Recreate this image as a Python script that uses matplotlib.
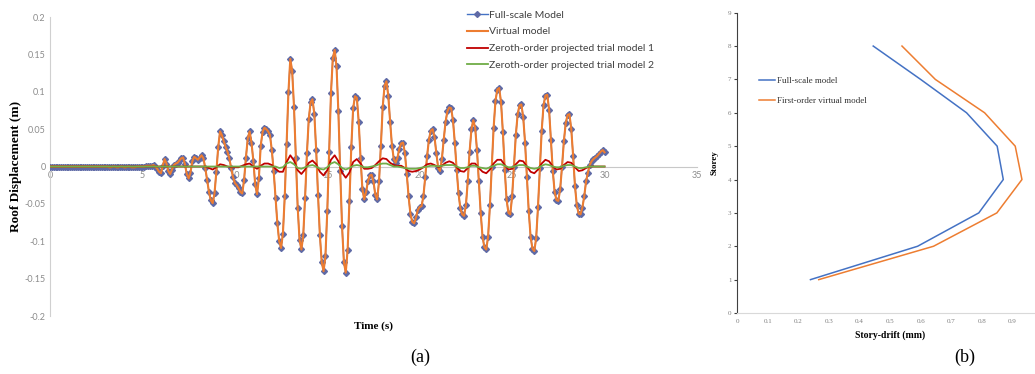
import matplotlib.pyplot as plt
import numpy as np

DT_FULL = 0.1
full_scale = [
    0.000, 0.000, 0.000, 0.000, 0.000, 0.000, 0.000, 0.000, 0.000, 0.000,
    0.000, 0.000, 0.000, 0.000, 0.000, 0.000, 0.000, 0.000, 0.000, 0.000,
    0.000, 0.000, 0.000, 0.000, 0.000, 0.000, 0.000, 0.000, 0.000, 0.000,
    0.000, 0.000, -0.001, -0.001, 0.000, 0.000, -0.001, -0.001, 0.000, 0.000,
    -0.001, -0.001, 0.000, 0.000, -0.001, -0.001, -0.001, 0.000, 0.000, 0.000,
    0.000, 0.000, 0.001, 0.001, 0.001, 0.001, 0.002, 0.000, -0.003, -0.007,
    -0.009, 0.001, 0.010, 0.004, -0.006, -0.010, -0.004, 0.002, 0.004, 0.005,
    0.008, 0.011, 0.012, 0.003, -0.010, -0.016, -0.008, 0.007, 0.013, 0.011,
    0.009, 0.012, 0.015, 0.011, -0.002, -0.018, -0.034, -0.045, -0.049, -0.036,
    -0.007, 0.026, 0.047, 0.042, 0.034, 0.026, 0.020, 0.011, -0.002, -0.014,
    -0.022, -0.025, -0.029, -0.034, -0.036, -0.018, 0.012, 0.038, 0.047, 0.032,
    0.008, -0.024, -0.037, -0.016, 0.028, 0.046, 0.052, 0.050, 0.047, 0.042,
    0.022, -0.006, -0.042, -0.076, -0.100, -0.109, -0.090, -0.040, 0.030, 0.100,
    0.144, 0.128, 0.080, 0.012, -0.055, -0.098, -0.111, -0.092, -0.042, 0.018,
    0.064, 0.086, 0.090, 0.070, 0.022, -0.038, -0.092, -0.128, -0.140, -0.120,
    -0.060, 0.020, 0.098, 0.145, 0.156, 0.134, 0.074, -0.006, -0.080, -0.128,
    -0.142, -0.112, -0.046, 0.026, 0.078, 0.094, 0.092, 0.060, 0.012, -0.030,
    -0.044, -0.034, -0.020, -0.012, -0.011, -0.020, -0.038, -0.044, -0.020, 0.028,
    0.080, 0.108, 0.114, 0.095, 0.060, 0.028, 0.010, 0.005, 0.012, 0.024,
    0.031, 0.032, 0.018, -0.010, -0.040, -0.064, -0.074, -0.076, -0.068, -0.058,
    -0.054, -0.053, -0.040, -0.014, 0.014, 0.036, 0.048, 0.050, 0.040, 0.018,
    -0.002, -0.006, 0.010, 0.036, 0.060, 0.074, 0.079, 0.078, 0.062, 0.032,
    -0.004, -0.036, -0.056, -0.064, -0.066, -0.052, -0.020, 0.020, 0.050, 0.062,
    0.052, 0.022, -0.020, -0.062, -0.094, -0.108, -0.111, -0.094, -0.052, 0.000,
    0.052, 0.088, 0.103, 0.105, 0.086, 0.046, -0.004, -0.044, -0.062, -0.064,
    -0.040, 0.000, 0.042, 0.070, 0.082, 0.083, 0.066, 0.032, -0.014, -0.060,
    -0.094, -0.110, -0.113, -0.096, -0.054, -0.002, 0.048, 0.082, 0.095, 0.096,
    0.076, 0.036, -0.006, -0.034, -0.045, -0.046, -0.030, 0.000, 0.034, 0.058,
    0.069, 0.070, 0.050, 0.014, -0.026, -0.052, -0.063, -0.064, -0.055, -0.040,
    -0.020, -0.008, 0.002, 0.007, 0.010, 0.012, 0.014, 0.017, 0.020, 0.022,
    0.019,
]
# the virtual model sits exactly on top of the full-scale curve
virtual_model = list(full_scale)

# trial models, sampled every 0.2 s
DT_TRIAL = 0.2
trial_1 = [
    0.000, 0.000, 0.000, 0.000, 0.000, 0.000, 0.000, 0.000, 0.000, 0.000,
    0.000, 0.000, 0.000, 0.000, 0.000, 0.000, 0.000, 0.000, 0.000, 0.000,
    0.000, 0.000, 0.000, 0.000, 0.000, 0.000, 0.000, 0.000, 0.000, 0.000,
    0.000, 0.000, 0.000, 0.000, 0.000, 0.000, 0.000, 0.000, 0.000, 0.000,
    0.000, 0.000,
    0.000, -0.002, -0.004, -0.001, 0.003, 0.002, 0.000, -0.001, -0.001, -0.001,
    0.001, 0.003, 0.004, 0.000, -0.003, 0.001, 0.004, 0.004, 0.002, -0.003,
    -0.007, -0.007, 0.006, 0.015, 0.008, -0.005, -0.010, -0.004, 0.005, 0.008,
    0.003, -0.007, -0.012, -0.005, 0.009, 0.015, 0.007, -0.008, -0.015, -0.008,
    0.006, 0.010, 0.004, -0.003, -0.003, -0.002, 0.002, 0.007, 0.011, 0.010,
    0.005, 0.002, 0.001, 0.001, -0.002, -0.006, -0.007, -0.006, -0.004, -0.001,
    0.003, 0.004, 0.002, -0.001, 0.001, 0.005, 0.007, 0.005, -0.001, -0.006,
    -0.007, -0.002, 0.004, 0.004, -0.002, -0.007, -0.009, -0.004, 0.004, 0.009,
    0.009, 0.002, -0.004, -0.003, 0.003, 0.008, 0.007, 0.000, -0.007, -0.009,
    -0.004, 0.004, 0.009, 0.007, 0.000, -0.004, -0.003, 0.002, 0.006, 0.005,
    -0.001, -0.006, -0.005, -0.002, 0.000, 0.000, 0.000, 0.000, 0.000,
]
trial_2 = [
    0.000, 0.000, 0.000, 0.000, 0.000, 0.000, 0.000, 0.000, 0.000, 0.000,
    0.000, 0.000, 0.000, 0.000, 0.000, 0.000, 0.000, 0.000, 0.000, 0.000,
    0.000, 0.000, 0.000, 0.000, 0.000, 0.000, 0.000, 0.000, 0.000, 0.000,
    0.000, 0.000, 0.000, 0.000, 0.000, 0.000, 0.000, 0.000, 0.000, 0.000,
    0.000, 0.000, 0.000, 0.000, 0.000, 0.000, 0.000, 0.000, 0.000, 0.000,
    0.000, 0.000, 0.000, 0.000, 0.000, 0.000, 0.000, 0.000, 0.000, 0.000,
    0.000,
    0.000, -0.002, -0.001, 0.004, 0.006, 0.003, -0.002, -0.003, -0.001, 0.001,
    0.002, 0.000, -0.003, -0.004, -0.001, 0.004, 0.006, 0.003, -0.002, -0.004,
    -0.002, 0.001, 0.002, 0.001, -0.001, -0.001, 0.000, 0.001, 0.003, 0.004,
    0.004, 0.002, 0.000, 0.000, -0.001, -0.002, -0.003, -0.003, -0.003, -0.002,
    -0.001, 0.000, 0.001, 0.001, 0.000, 0.001, 0.002, 0.002, 0.002, 0.000,
    -0.002, -0.002, -0.001, 0.001, 0.001, -0.001, -0.002, -0.003, -0.001, 0.001,
    0.003, 0.003, 0.001, -0.001, -0.001, 0.001, 0.002, 0.002, 0.000, -0.002,
    -0.003, -0.002, 0.001, 0.003, 0.002, 0.000, -0.001, -0.001, 0.001, 0.002,
    0.002, 0.000, -0.002, -0.002, -0.001, 0.000, 0.000, 0.000, 0.000, 0.000,
]

LEGEND_A = [
    "Full-scale Model",
    "Virtual model",
    "Zeroth-order projected trial model 1",
    "Zeroth-order projected trial model 2",
]
Y_TICKS_A = [-0.2, -0.15, -0.1, -0.05, 0, 0.05, 0.1, 0.15, 0.2]
X_TICKS_A = [0, 5, 10, 15, 20, 25, 30, 35]

# ---- (b) story drift profile
storey = [1, 2, 3, 4, 5, 6, 7, 8]
drift_full = [0.24, 0.59, 0.79, 0.87, 0.85, 0.75, 0.60, 0.445]
drift_virtual = [0.267, 0.642, 0.849, 0.931, 0.909, 0.809, 0.648, 0.539]
LEGEND_B = ["Full-scale model", "First-order virtual model"]
X_TICKS_B = [0, 0.1, 0.2, 0.3, 0.4, 0.5, 0.6, 0.7, 0.8, 0.9]

BLUE = "#4472C4"
ORANGE = "#ED7D31"
RED = "#C00000"
GREEN = "#70AD47"
SANS = ["Lato", "DejaVu Sans"]
SERIF = ["Liberation Serif", "DejaVu Serif"]


def main():
    fig = plt.figure(figsize=(10.35, 3.74), dpi=100)

    # ---------------- panel (a)
    ax = fig.add_axes([0.0483, 0.155, 0.6251, 0.7995])
    t_full = np.arange(len(full_scale)) * DT_FULL
    t_trial = np.arange(len(trial_1)) * DT_TRIAL

    ax.plot(t_full, full_scale, color=BLUE, lw=1.0, marker="D", ms=3.0,
            mfc="#5f6aa6", mec="#5f6aa6", label=LEGEND_A[0], zorder=3)
    ax.plot(t_full, virtual_model, color=ORANGE, lw=1.5, label=LEGEND_A[1], zorder=4)
    ax.plot(t_trial, trial_1, color=RED, lw=1.3, label=LEGEND_A[2], zorder=5)
    ax.plot(t_trial, trial_2, color=GREEN, lw=1.3, label=LEGEND_A[3], zorder=6)

    ax.set_xlim(0, 35)
    ax.set_ylim(-0.2, 0.2)
    ax.set_yticks(Y_TICKS_A)
    ax.set_yticklabels([f"{v:g}" for v in Y_TICKS_A])
    ax.set_xticks(X_TICKS_A)
    ax.set_xticklabels([str(v) for v in X_TICKS_A])
    for s in ["top", "right"]:
        ax.spines[s].set_visible(False)
    ax.spines["left"].set_color("#d0d0d0")
    ax.spines["bottom"].set_color("#c8c8c8")
    ax.spines["bottom"].set_position(("data", 0))
    ax.tick_params(length=0, labelsize=6.5, labelcolor="#8c8c8c", pad=3)
    for lab in ax.get_xticklabels() + ax.get_yticklabels():
        lab.set_family(SANS)

    ax.set_ylabel("Roof Displacement (m)", family=SERIF, fontsize=9.5,
                  fontweight="bold", labelpad=2)
    fig.text(0.3608, 0.128, "Time (s)", family=SERIF, fontsize=8,
             fontweight="bold", ha="center", va="center")
    fig.text(0.406, 0.045, "(a)", family=SERIF, fontsize=13,
             ha="center", va="center")

    leg = ax.legend(loc="upper left", bbox_to_anchor=(0.449, 0.978),
                    bbox_transform=fig.transFigure, frameon=False,
                    prop={"family": SANS, "size": 7.5}, handlelength=2.0,
                    handletextpad=0.1, labelspacing=0.72, borderpad=0.2,
                    borderaxespad=0)
    for txt in leg.get_texts():
        txt.set_color("#404040")

    # ---------------- panel (b)
    bx = fig.add_axes([0.7121, 0.1631, 0.2957, 0.803])
    bx.plot(drift_full, storey, color=BLUE, lw=1.1, label=LEGEND_B[0])
    bx.plot(drift_virtual, storey, color=ORANGE, lw=1.1, label=LEGEND_B[1])
    bx.set_xlim(0, 1.0)
    bx.set_ylim(0, 9)
    bx.set_xticks(X_TICKS_B)
    bx.set_xticklabels([f"{v:g}" for v in X_TICKS_B])
    bx.set_yticks(range(0, 10))
    for s in ["top", "right"]:
        bx.spines[s].set_visible(False)
    bx.spines["left"].set_color("#404040")
    bx.spines["bottom"].set_color("#d9d9d9")
    bx.tick_params(axis="y", length=2, width=0.8, color="#404040",
                   labelsize=5, labelcolor="#7f7f7f", pad=2)
    bx.tick_params(axis="x", length=0, labelsize=5, labelcolor="#7f7f7f", pad=4)
    for lab in bx.get_xticklabels() + bx.get_yticklabels():
        lab.set_family(SERIF)

    bx.set_ylabel("Storey", family=SERIF, fontsize=6.5, fontweight="bold",
                  labelpad=7)
    fig.text(0.8599, 0.105, "Story-drift (mm)", family=SERIF, fontsize=7,
             fontweight="bold", ha="center", va="center")
    fig.text(0.9324, 0.045, "(b)", family=SERIF, fontsize=13,
             ha="center", va="center")

    leg_b = bx.legend(loc="upper left", bbox_to_anchor=(0.732, 0.8),
                      bbox_transform=fig.transFigure, frameon=False,
                      prop={"family": SERIF, "size": 6.5}, handlelength=1.7,
                      handletextpad=0.2, labelspacing=1.35, borderpad=0.2,
                      borderaxespad=0)
    for txt in leg_b.get_texts():
        txt.set_color("#333333")

    fig.savefig("out.png", dpi=100)


if __name__ == "__main__":
    main()
